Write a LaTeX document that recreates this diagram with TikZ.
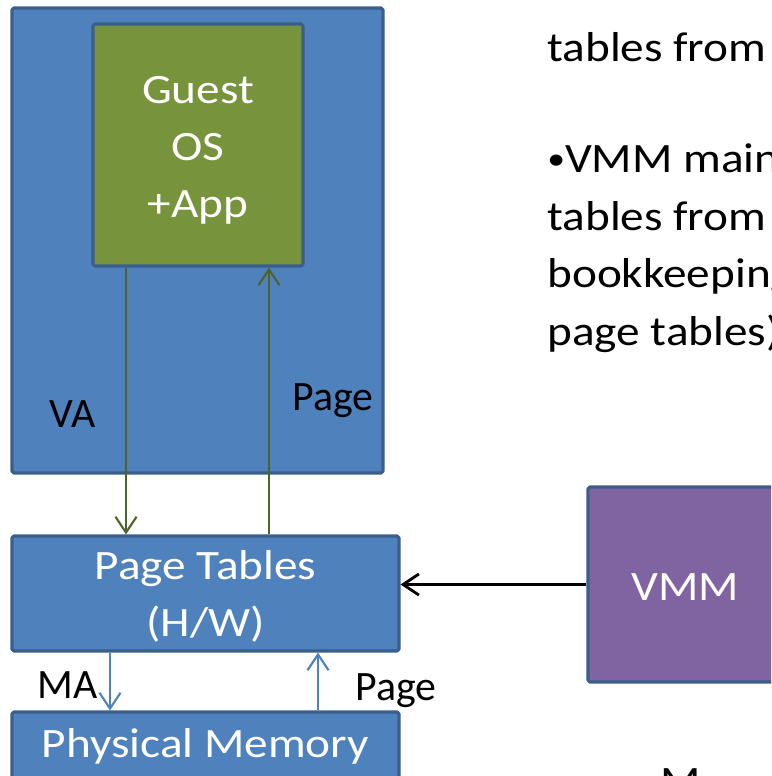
\documentclass[tikz,border=0pt]{standalone}
\usepackage{fontspec}
\setmainfont{Carlito}[FakeStretch=1.13]
\newfontfamily\labelfont{Carlito}
\usetikzlibrary{arrows.meta}
\definecolor{hostblue}{HTML}{4F81BD}
\definecolor{edgeblue}{HTML}{3A5F8B}
\definecolor{guestgreen}{HTML}{77933C}
\definecolor{olivearrow}{HTML}{4F6228}
\definecolor{vmmpurple}{HTML}{8064A2}
\newcommand{\smallbullet}{{\fontsize{18}{18}\selectfont\raisebox{0.12em}{•}}}
\tikzset{
  box/.style={draw=edgeblue, line width=1.8pt, rounded corners=1pt, inner sep=0pt},
  boxtext/.style={text=white, align=center, inner sep=0pt, yshift=-0.08cm},
  lbl/.style={anchor=base west, inner sep=0pt, font=\fontsize{23.8}{32.4}\labelfont},
  bodytext/.style={anchor=base west, inner sep=0pt}
}
\begin{document}
\begin{tikzpicture}[x=0.02cm, y=-0.02cm, font=\fontsize{23.8}{32.4}\selectfont, line join=round,
  >={Straight Barb[length=9pt, width=12pt]}]
% Rahmen und Ausschnitt
\useasboundingbox (0,0) rectangle (771,776);
\clip (0,0) rectangle (771,776);
\fill[white] (0,0) rectangle (771,776);
% Kästen
\node[box, fill=hostblue, minimum width=7.42cm, minimum height=9.30cm] (host) at (197.5,240.5) {};
\node[box, fill=guestgreen, minimum width=4.20cm, minimum height=4.84cm] (guest) at (198,145) {};
\node[box, fill=hostblue, minimum width=7.74cm, minimum height=2.30cm] (pt) at (205.5,593.5) {};
\node[box, fill=hostblue, minimum width=7.74cm, minimum height=1.36cm] (pm) at (205.5,746) {};
\node[box, fill=vmmpurple, minimum width=3.88cm, minimum height=3.90cm] (vmm) at (685,584.5) {};
% Texte in den Kästen
\node[boxtext, yshift=-0.02cm] (guesttxt) at (guest.center) {Guest\\OS\\+App};
\node[boxtext, yshift=0.03cm] (pttxt) at (pt.center) {Page Tables\\(H/W)};
\node[boxtext, yshift=0.07cm] (pmtxt) at (pm.center) {Physical Memory};
\node[boxtext, yshift=0.03cm] (vmmtxt) at (vmm.center) {VMM};
% Hilfspunkte für die Pfeile
\coordinate (vax) at (126,0);
\coordinate (pgx) at (269,0);
\coordinate (max) at (110,0);
\coordinate (ppx) at (318,0);
% Pfeile
\draw[olivearrow, line width=1.2pt, ->] (guest.south -| vax) -- (pt.north -| vax);
\draw[olivearrow, line width=1.2pt, ->] (pt.north -| pgx) -- (guest.south -| pgx);
\draw[hostblue, line width=1.2pt, ->] (pt.south -| max) -- (pm.north -| max);
\draw[hostblue, line width=1.2pt, ->] (pm.north -| ppx) -- (pt.south -| ppx);
\draw[black, line width=1.6pt, ->] (vmm.west) -- (vmm.west -| pt.east);
% Beschriftungen
\node[lbl] (va) at (49,427) {VA};
\node[lbl] (pgup) at (292,410) {Page};
\node[lbl] (ma) at (37,698) {MA};
\node[lbl] (pglo) at (355,700) {Page};
% Text rechts
\node[bodytext] (t1) at (547,62) {tables from};
\node[bodytext] (t2) at (547,173) {\smallbullet VMM maintains};
\node[bodytext] (t3) at (547,230.5) {tables from};
\node[bodytext] (t4) at (547,288) {bookkeeping};
\node[bodytext] (t5) at (547,345.5) {page tables)};
\node[bodytext] (t6) at (660,795) {M};
\end{tikzpicture}
\end{document}
